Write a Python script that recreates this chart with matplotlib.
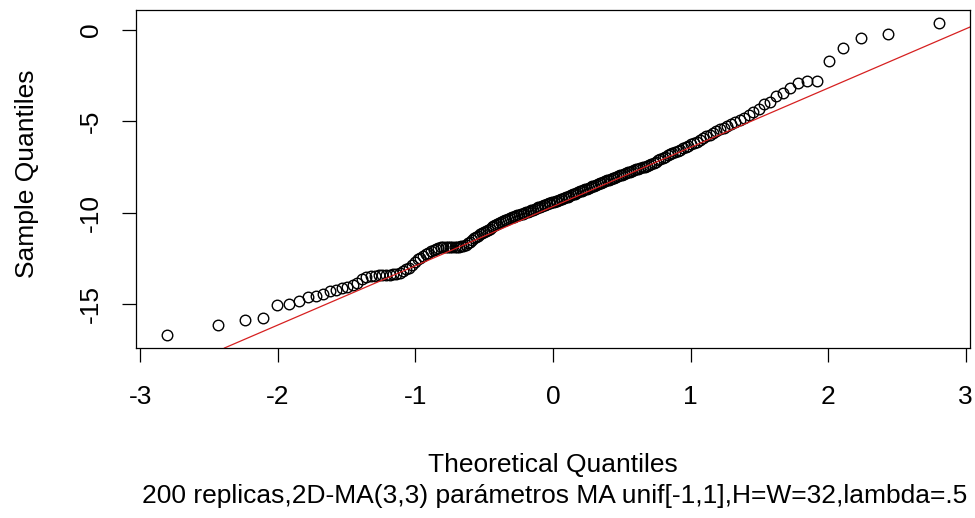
import numpy as np
import matplotlib
matplotlib.use("Agg")
import matplotlib.pyplot as plt
from statistics import NormalDist

# Sorted sample values of the 200 replicas
sample_quantiles = [
    -16.71, -16.15, -15.84, -15.75, -15.05, -15.00, -14.82, -14.63, -14.53, -14.42,
    -14.30, -14.20, -14.10, -14.07, -13.95, -13.85, -13.62, -13.50, -13.45, -13.43,
    -13.42, -13.41, -13.40, -13.39, -13.37, -13.33, -13.27, -13.18, -13.10, -13.00,
    -12.85, -12.70, -12.55, -12.45, -12.35, -12.28, -12.20, -12.10, -12.02, -11.96,
    -11.92, -11.89, -11.88, -11.88, -11.87, -11.87, -11.86, -11.86, -11.85, -11.85,
    -11.84, -11.80, -11.74, -11.66, -11.57, -11.48, -11.40, -11.32, -11.25, -11.18,
    -11.12, -11.06, -11.00, -10.93, -10.86, -10.80, -10.74, -10.68, -10.62, -10.56,
    -10.50, -10.45, -10.41, -10.37, -10.33, -10.29, -10.25, -10.21, -10.17, -10.13,
    -10.10, -10.07, -10.04, -10.01, -9.98, -9.94, -9.90, -9.86, -9.82, -9.78,
    -9.74, -9.70, -9.66, -9.62, -9.58, -9.55, -9.52, -9.49, -9.46, -9.43,
    -9.40, -9.37, -9.34, -9.31, -9.27, -9.23, -9.19, -9.15, -9.11, -9.07,
    -9.03, -8.99, -8.95, -8.91, -8.87, -8.83, -8.79, -8.75, -8.71, -8.67,
    -8.63, -8.59, -8.55, -8.51, -8.47, -8.43, -8.39, -8.35, -8.31, -8.27,
    -8.23, -8.19, -8.15, -8.11, -8.07, -8.03, -7.99, -7.95, -7.91, -7.87,
    -7.83, -7.79, -7.75, -7.71, -7.67, -7.63, -7.59, -7.55, -7.51, -7.48,
    -7.45, -7.40, -7.34, -7.27, -7.20, -7.12, -7.05, -6.98, -6.92, -6.86,
    -6.80, -6.74, -6.68, -6.61, -6.54, -6.47, -6.40, -6.33, -6.26, -6.19,
    -6.11, -6.02, -5.92, -5.82, -5.72, -5.62, -5.52, -5.43, -5.34, -5.24,
    -5.14, -5.04, -4.92, -4.80, -4.66, -4.50, -4.30, -4.05, -3.92, -3.62,
    -3.45, -3.18, -2.88, -2.80, -2.77, -1.67, -1.01, -0.43, -0.23, 0.41,
]

x_ticks = [-3, -2, -1, 0, 1, 2, 3]
y_ticks = [0, -5, -10, -15]
x_label = "Theoretical Quantiles"
y_label = "Sample Quantiles"
subtitle = "200 replicas,2D-MA(3,3) parámetros MA unif[-1,1],H=W=32,lambda=.5"

plt.rcParams["font.family"] = ["Liberation Sans", "DejaVu Sans"]
plt.rcParams["axes.unicode_minus"] = False
FS = 19

nd = NormalDist()
y = np.sort(np.asarray(sample_quantiles, dtype=float))
n = len(y)
probs = (np.arange(1, n + 1) - 0.5) / n
theo = np.array([nd.inv_cdf(p) for p in probs])

# reference line through the first and third quartiles
yq = np.quantile(y, [0.25, 0.75])
xq = np.array([nd.inv_cdf(0.25), nd.inv_cdf(0.75)])
slope = (yq[1] - yq[0]) / (xq[1] - xq[0])
intercept = yq[0] - slope * xq[0]

W, H = 975, 518
fig = plt.figure(figsize=(W / 100, H / 100), dpi=100)
left, right, top, bottom = 136, 970, 10, 348
ax = fig.add_axes([left / W, 1 - bottom / H, (right - left) / W, (bottom - top) / H])

ax.plot(theo, y, linestyle="none", marker="o", markersize=7.6,
        markerfacecolor="none", markeredgecolor="black", markeredgewidth=1.0)
ax.axline((0, intercept), slope=slope, color="#d62020", linewidth=0.9)

xr = theo.max() - theo.min()
ax.set_xlim(theo.min() - 0.04 * xr, theo.max() + 0.04 * xr)
yr = y.max() - y.min()
ax.set_ylim(y.min() - 0.04 * yr, y.max() + 0.04 * yr)

ax.set_xticks(x_ticks)
ax.set_xticklabels([str(t) for t in x_ticks], fontsize=FS)
ax.set_yticks(y_ticks)
ax.set_yticklabels([str(t) for t in y_ticks], fontsize=FS, rotation=90, va="center")
ax.tick_params(axis="both", direction="out", length=10, width=0.9, color="black")
ax.tick_params(axis="x", pad=17)
ax.tick_params(axis="y", pad=14)
for s in ax.spines.values():
    s.set_linewidth(0.9)
    s.set_color("black")

fig.text(553 / W, 1 - 465 / H, x_label, fontsize=FS, ha="center", va="center")
fig.text(555 / W, 1 - 496 / H, subtitle, fontsize=FS, ha="center", va="center")
fig.text(27 / W, 1 - 174 / H, y_label, fontsize=FS, ha="center", va="center", rotation=90)

fig.savefig("out.png", dpi=100, facecolor="white")
